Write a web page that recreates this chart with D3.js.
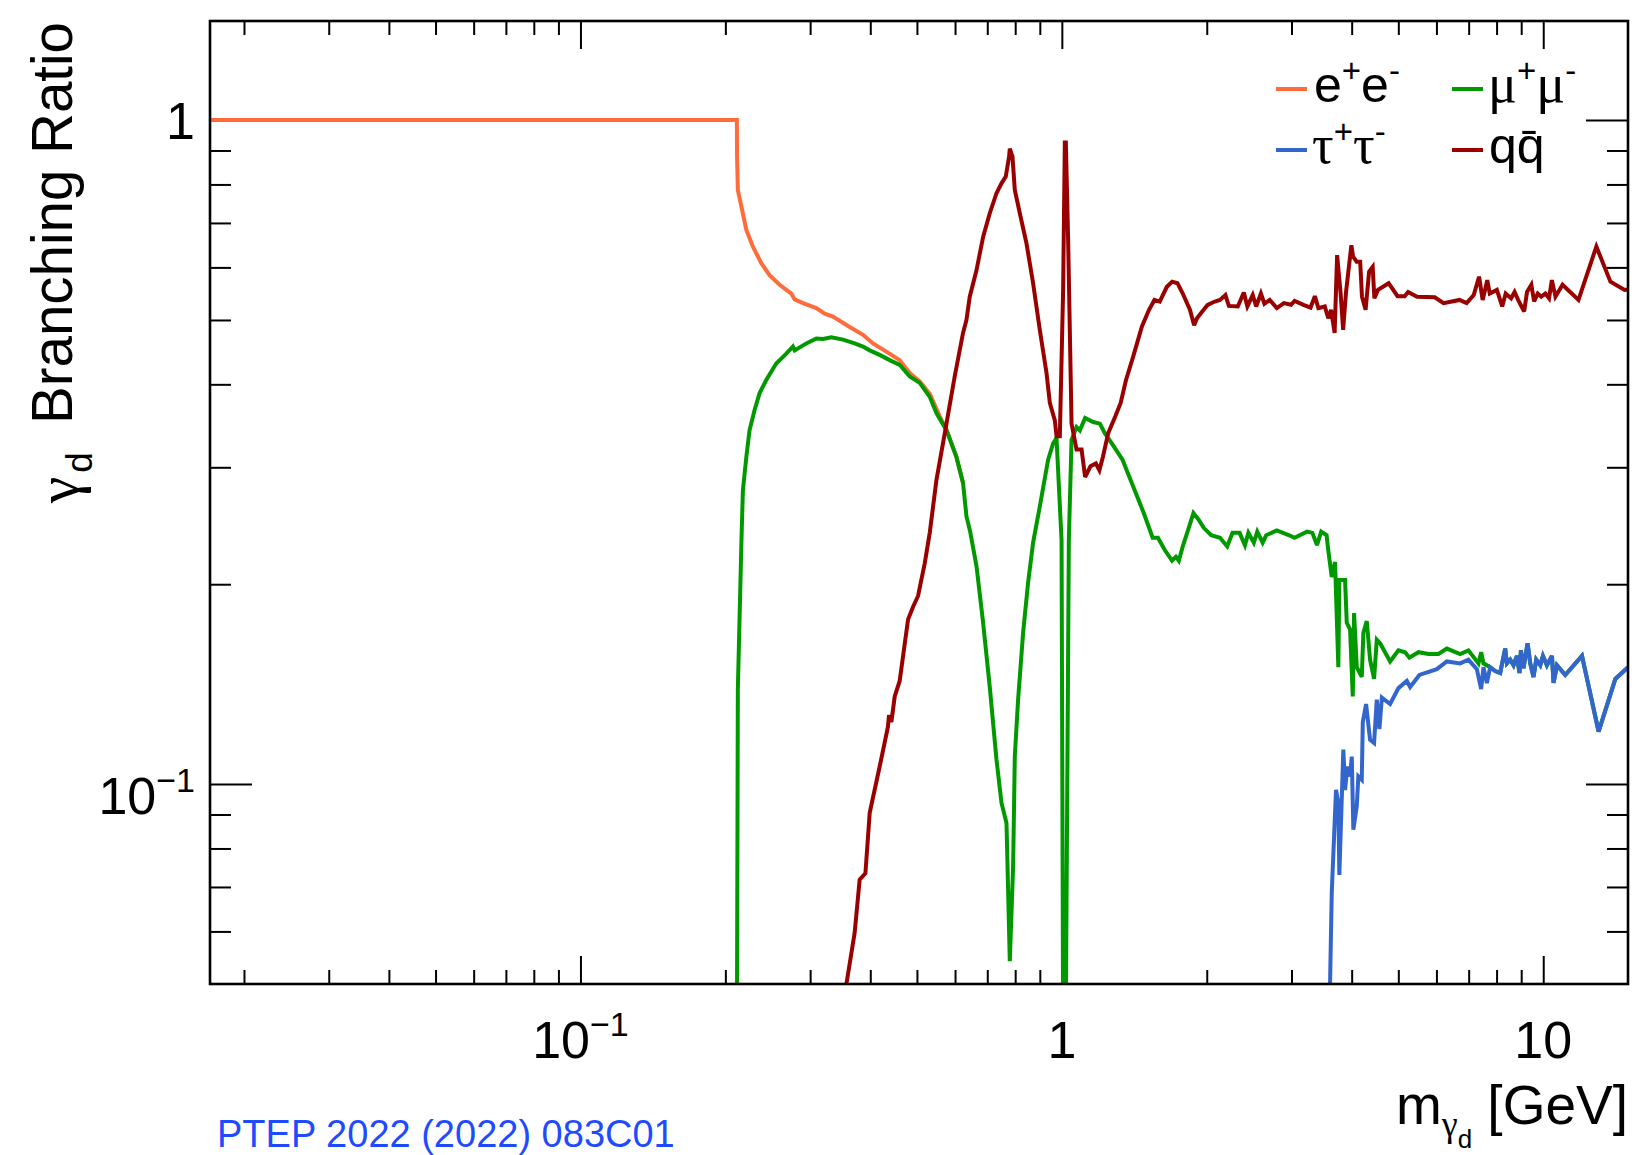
<!DOCTYPE html>
<html><head><meta charset="utf-8">
<script src="https://cdn.jsdelivr.net/npm/d3@7"></script>
<style>
body{margin:0;background:#fff;}
svg{display:block;}
text{font-family:"Liberation Sans",Arial,Helvetica,sans-serif;fill:#000;}
.greek{font-family:"Liberation Serif","DejaVu Serif",serif;}
</style>
</head><body>
<svg id="c" width="1639" height="1155"></svg>
<script>
// ---------------- data (mass in GeV, branching ratio) ----------------
const eeData = [[0.017,1.0],[0.2113,1.0],[0.2115,0.88],[0.2123,0.785],[0.216,0.74],[0.2211,0.683],[0.2281,0.645],[0.2375,0.609],[0.2471,0.584],[0.2593,0.565],[0.2742,0.548],[0.2786,0.537],[0.2899,0.53],[0.309,0.521],[0.3216,0.511],[0.3345,0.506],[0.3625,0.488],[0.3863,0.475],[0.4053,0.461],[0.4319,0.448],[0.4604,0.435],[0.4831,0.416],[0.5068,0.404],[0.5316,0.387],[0.5577,0.358],[0.5759,0.342],[0.6039,0.311],[0.6234,0.284]];

const mumuData = [[0.2114,0.045],[0.2123,0.139],[0.216,0.233],[0.2175,0.277],[0.2211,0.311],[0.2245,0.341],[0.23,0.366],[0.2356,0.388],[0.2432,0.406],[0.2551,0.43],[0.2677,0.445],[0.2763,0.456],[0.2786,0.45],[0.2946,0.461],[0.309,0.469],[0.319,0.468],[0.332,0.471],[0.351,0.467],[0.3712,0.461],[0.3863,0.456],[0.3989,0.45],[0.4184,0.443],[0.4389,0.435],[0.4604,0.428],[0.4831,0.411],[0.5068,0.402],[0.5316,0.383],[0.5489,0.362],[0.5759,0.341],[0.6039,0.311],[0.6234,0.284],[0.6337,0.253],[0.645,0.24],[0.6648,0.213],[0.6862,0.175],[0.7084,0.14],[0.7316,0.1088],[0.7493,0.0937],[0.7674,0.0874],[0.7796,0.0541],[0.7921,0.0752],[0.7985,0.11],[0.8112,0.134],[0.8309,0.169],[0.8509,0.201],[0.8716,0.231],[0.9,0.262],[0.9365,0.308],[0.9592,0.326],[0.9749,0.332],[0.9986,0.233],[1.006,0.045],[1.0193,0.045],[1.034,0.233],[1.0475,0.33],[1.0729,0.345],[1.09,0.341],[1.1178,0.356],[1.1617,0.351],[1.1995,0.349],[1.2274,0.338],[1.2697,0.326],[1.3366,0.308],[1.4061,0.281],[1.4796,0.256],[1.5439,0.235],[1.5836,0.235],[1.6374,0.225],[1.694,0.217],[1.726,0.22],[1.75,0.217],[1.7831,0.228],[1.8281,0.241],[1.8767,0.256],[1.9249,0.25],[1.9734,0.243],[2.0428,0.237],[2.1308,0.235],[2.2057,0.228],[2.2622,0.239],[2.3401,0.239],[2.4005,0.229],[2.4407,0.239],[2.5049,0.231],[2.5468,0.24],[2.6128,0.231],[2.6578,0.237],[2.7965,0.241],[2.9677,0.237],[3.044,0.235],[3.2318,0.24],[3.3146,0.239],[3.3884,0.229],[3.4572,0.24],[3.5477,0.237],[3.5765,0.225],[3.6365,0.205],[3.6943,0.216],[3.7528,0.15],[3.7709,0.203],[3.8757,0.203],[3.9071,0.175],[3.9696,0.171],[4.0212,0.1355],[4.0463,0.181],[4.0988,0.15],[4.1982,0.145],[4.2303,0.169],[4.2999,0.176],[4.368,0.154],[4.4524,0.144],[4.5107,0.165],[4.5827,0.163],[4.8078,0.153],[5.0029,0.159],[5.1655,0.158],[5.2725,0.155],[5.5051,0.158],[5.7749,0.157],[6.0577,0.157],[6.307,0.16],[6.72,0.157],[6.9926,0.159],[7.3361,0.152],[7.431,0.158],[7.5137,0.152],[7.7585,0.15],[7.9462,0.148],[8.1389,0.147],[8.3366,0.16],[8.404,0.152],[8.5387,0.154],[8.6754,0.151],[8.8165,0.156],[8.927,0.147],[8.9869,0.159],[9.1,0.1495],[9.2782,0.163],[9.3972,0.152],[9.5455,0.145],[9.6697,0.154],[9.8583,0.151],[9.9862,0.156],[10.178,0.151],[10.426,0.156],[10.506,0.142],[10.679,0.151],[11.11,0.146],[12.036,0.156],[13.032,0.12],[14.119,0.144],[15.0,0.15]];

const tautauData = [[3.56,0.03],[3.6365,0.0686],[3.7115,0.098],[3.7528,0.0937],[3.7709,0.073],[3.8437,0.1127],[3.8757,0.098],[3.9179,0.1063],[3.9696,0.1027],[4.0018,0.11],[4.0323,0.0854],[4.0988,0.0926],[4.1301,0.1027],[4.1982,0.1015],[4.2186,0.124],[4.2853,0.132],[4.368,0.1166],[4.4524,0.1153],[4.5107,0.134],[4.5679,0.121],[4.6209,0.135],[4.8078,0.132],[5.0029,0.1395],[5.2073,0.143],[5.2907,0.14],[5.5318,0.146],[6.0117,0.149],[6.307,0.153],[6.72,0.152],[6.9926,0.154],[7.279,0.149],[7.431,0.139],[7.5137,0.15],[7.6362,0.142],[7.7585,0.15],[7.9462,0.148],[8.1389,0.147],[8.3366,0.16],[8.404,0.152],[8.5387,0.154],[8.6754,0.151],[8.8165,0.156],[8.927,0.147],[8.9869,0.159],[9.1,0.1495],[9.2782,0.163],[9.3972,0.152],[9.5455,0.145],[9.6697,0.154],[9.8583,0.151],[9.9862,0.156],[10.178,0.151],[10.426,0.156],[10.506,0.142],[10.679,0.151],[11.11,0.146],[12.036,0.156],[13.032,0.12],[14.119,0.144],[15.0,0.15]];

const qqData = [[0.352,0.047],[0.3712,0.0597],[0.3802,0.0718],[0.3908,0.0734],[0.3989,0.0905],[0.4184,0.1063],[0.4353,0.122],[0.4375,0.127],[0.4425,0.124],[0.4496,0.1355],[0.4604,0.143],[0.4792,0.177],[0.4909,0.185],[0.5027,0.192],[0.519,0.215],[0.5316,0.239],[0.5489,0.287],[0.5759,0.349],[0.599,0.411],[0.6234,0.478],[0.6337,0.5],[0.6437,0.542],[0.6648,0.594],[0.6862,0.667],[0.7084,0.724],[0.7316,0.776],[0.7493,0.803],[0.7648,0.822],[0.777,0.881],[0.7796,0.906],[0.7897,0.881],[0.7985,0.785],[0.8179,0.724],[0.8444,0.652],[0.8716,0.568],[0.9,0.483],[0.9293,0.416],[0.9442,0.375],[0.967,0.353],[0.9749,0.334],[0.9904,0.334],[1.0062,0.555],[1.0144,0.925],[1.0193,0.925],[1.0306,0.66],[1.0475,0.349],[1.0729,0.319],[1.099,0.319],[1.1178,0.29],[1.1468,0.301],[1.1768,0.304],[1.1967,0.297],[1.2168,0.311],[1.2488,0.338],[1.2917,0.358],[1.3249,0.375],[1.3592,0.406],[1.4061,0.44],[1.4667,0.489],[1.5176,0.518],[1.5572,0.536],[1.5972,0.533],[1.6525,0.561],[1.6949,0.571],[1.7385,0.568],[1.7831,0.548],[1.8454,0.518],[1.8828,0.491],[1.9085,0.503],[1.9575,0.515],[2.0088,0.527],[2.0784,0.533],[2.1308,0.536],[2.1865,0.545],[2.2233,0.525],[2.3202,0.524],[2.3878,0.55],[2.4289,0.524],[2.4917,0.545],[2.5334,0.524],[2.5912,0.548],[2.6352,0.529],[2.7028,0.536],[2.7965,0.521],[2.8929,0.53],[2.9932,0.527],[3.044,0.534],[3.1764,0.527],[3.286,0.522],[3.3545,0.543],[3.4112,0.521],[3.5175,0.524],[3.5765,0.503],[3.6245,0.518],[3.687,0.478],[3.7312,0.626],[3.7945,0.548],[3.8402,0.483],[3.8937,0.551],[3.9944,0.648],[4.0268,0.623],[4.0969,0.612],[4.1664,0.612],[4.2021,0.542],[4.2754,0.518],[4.3477,0.591],[4.4228,0.601],[4.4596,0.539],[4.5367,0.555],[4.7735,0.568],[4.9811,0.543],[5.1536,0.543],[5.2398,0.551],[5.4684,0.542],[5.9521,0.541],[6.2075,0.53],[6.7014,0.536],[6.9318,0.53],[7.1721,0.545],[7.3564,0.581],[7.4843,0.536],[7.652,0.574],[7.7424,0.548],[8.0107,0.555],[8.2181,0.524],[8.3558,0.548],[8.5761,0.539],[8.7195,0.551],[8.8675,0.536],[9.1272,0.515],[9.2547,0.551],[9.4471,0.565],[9.5741,0.533],[9.7412,0.548],[9.904,0.542],[10.106,0.548],[10.282,0.539],[10.421,0.574],[10.602,0.542],[10.967,0.565],[11.836,0.536],[12.893,0.645],[13.791,0.571],[14.757,0.555],[15.0,0.556]];

const seriesNames  = ["e+e-", "mu+mu-", "tau+tau-", "qqbar"];
const seriesColors = ["#ff6b3a", "#009900", "#3366cc", "#990000"];
const xDomain = [0.017, 15];
const yDomain = [0.05, 1.41];
const xMajorTicks = [0.1, 1, 10];
const yMajorTicks = [0.1, 1];
// tick label parts: [base, exponent]
const xTickLabels = [["10","\u22121"], ["1",""], ["10",""]];
const yTickLabels = [["10","\u22121"], ["1",""]];

// ---------------- drawing ----------------
const W = 1639, H = 1155;
const F = {l:210, r:1628, t:21, b:984};
const svg = d3.select("#c");
svg.append("rect").attr("width", W).attr("height", H).attr("fill", "#fff");

const x = d3.scaleLog().domain(xDomain).range([F.l, F.r]);
const y = d3.scaleLog().domain(yDomain).range([F.b, F.t]);

svg.append("defs").append("clipPath").attr("id", "clip")
  .append("rect").attr("x", F.l).attr("y", F.t).attr("width", F.r - F.l).attr("height", F.b - F.t);

const isMajor = v => Math.abs(Math.log10(v) - Math.round(Math.log10(v))) < 1e-9;
const xMinor = x.ticks().filter(v => !isMajor(v));
const yMinor = y.ticks().filter(v => !isMajor(v) && v > yDomain[0] * 1.001);

function styleAxis(g) {
  g.select(".domain").remove();
  g.selectAll("line").attr("stroke", "#000").attr("stroke-width", 2);
  g.selectAll("text").remove();
}
// bottom & top
svg.append("g").attr("transform", `translate(0,${F.b})`)
  .call(d3.axisBottom(x).tickValues(xMinor).tickSize(-14).tickSizeOuter(0)).call(styleAxis);
svg.append("g").attr("transform", `translate(0,${F.b})`)
  .call(d3.axisBottom(x).tickValues(xMajorTicks).tickSize(-28).tickSizeOuter(0)).call(styleAxis);
svg.append("g").attr("transform", `translate(0,${F.t})`)
  .call(d3.axisTop(x).tickValues(xMinor).tickSize(-14).tickSizeOuter(0)).call(styleAxis);
svg.append("g").attr("transform", `translate(0,${F.t})`)
  .call(d3.axisTop(x).tickValues(xMajorTicks).tickSize(-28).tickSizeOuter(0)).call(styleAxis);
// left & right
svg.append("g").attr("transform", `translate(${F.l},0)`)
  .call(d3.axisLeft(y).tickValues(yMinor).tickSize(-21).tickSizeOuter(0)).call(styleAxis);
svg.append("g").attr("transform", `translate(${F.l},0)`)
  .call(d3.axisLeft(y).tickValues(yMajorTicks).tickSize(-42).tickSizeOuter(0)).call(styleAxis);
svg.append("g").attr("transform", `translate(${F.r},0)`)
  .call(d3.axisRight(y).tickValues(yMinor).tickSize(-21).tickSizeOuter(0)).call(styleAxis);
svg.append("g").attr("transform", `translate(${F.r},0)`)
  .call(d3.axisRight(y).tickValues(yMajorTicks).tickSize(-42).tickSizeOuter(0)).call(styleAxis);

// curves
const line = d3.line().x(d => x(d[0])).y(d => y(d[1]));
const curves = svg.append("g").attr("clip-path", "url(#clip)");
[eeData, mumuData, tautauData, qqData].forEach((data, i) => {
  curves.append("path").datum(data).attr("d", line)
    .attr("fill", "none").attr("stroke", seriesColors[i]).attr("stroke-width", 4)
    .attr("stroke-linejoin", "miter").attr("stroke-miterlimit", 3);
});

// frame
svg.append("rect").attr("x", F.l).attr("y", F.t).attr("width", F.r - F.l).attr("height", F.b - F.t)
  .attr("fill", "none").attr("stroke", "#000").attr("stroke-width", 2.6);

// tick labels
const LBL = 52, SUP = 34;
function richLabel(sel, base, exp) {
  sel.append("tspan").text(base);
  if (exp) sel.append("tspan").attr("font-size", SUP).attr("dy", -22).text(exp);
}
xMajorTicks.forEach((v, i) => {
  const t = svg.append("text").attr("x", x(v)).attr("y", 1058)
    .attr("text-anchor", "middle").attr("font-size", LBL);
  richLabel(t, xTickLabels[i][0], xTickLabels[i][1]);
});
yMajorTicks.forEach((v, i) => {
  const hasExp = !!yTickLabels[i][1];
  const t = svg.append("text").attr("x", F.l - 15).attr("y", y(v) + (hasExp ? 30 : 19))
    .attr("text-anchor", "end").attr("font-size", LBL);
  richLabel(t, yTickLabels[i][0], yTickLabels[i][1]);
});

// axis titles
const TT = 55;
const xt = svg.append("text").attr("x", F.r).attr("y", 1124).attr("text-anchor", "end").attr("font-size", TT);
xt.append("tspan").text("m");
xt.append("tspan").attr("class", "greek").attr("font-size", 36).attr("dy", 12).text("\u03b3");
xt.append("tspan").attr("font-size", 26).attr("dy", 12).text("d");
xt.append("tspan").attr("font-size", TT).attr("dy", -24).text(" [GeV]");

const YT = 56.5;
const yt = svg.append("text").attr("transform", `translate(72,22) rotate(-90)`)
  .attr("text-anchor", "end").attr("font-size", YT);
yt.append("tspan").attr("class", "greek").attr("font-size", 60).attr("dy", 6).text("\u03b3");
yt.append("tspan").attr("font-size", 37).attr("dy", 14).attr("dx", 4).text("d");
yt.append("tspan").attr("font-size", YT).attr("dy", -20).text("\u2002Branching Ratio");

// legend
const LG = 50, LS = 33;
const legendItems = [
  {c: 0, x0: 1276, ly: 89,  tx: 1314, parts: [["e",0,0],["+",1,0],["e",0,0],["-",1,0]]},
  {c: 1, x0: 1452, ly: 89,  tx: 1488, parts: [["\u03bc",0,1],["+",1,0],["\u03bc",0,1],["-",1,0]]},
  {c: 2, x0: 1276, ly: 150, tx: 1312, parts: [["\u03c4",0,1],["+",1,0],["\u03c4",0,1],["-",1,0]]},
  {c: 3, x0: 1452, ly: 150, tx: 1489, parts: [["q",0,0],["q\u0304",0,0]]}
];
legendItems.forEach(it => {
  svg.append("line").attr("x1", it.x0).attr("x2", it.x0 + 31).attr("y1", it.ly).attr("y2", it.ly)
    .attr("stroke", seriesColors[it.c]).attr("stroke-width", 4);
  const t = svg.append("text").attr("x", it.tx).attr("y", it.ly + 13).attr("font-size", LG);
  let up = false;
  it.parts.forEach(([s, sup, greek]) => {
    const ts = t.append("tspan").text(s);
    if (greek) ts.attr("class", "greek").attr("font-size", 54);
    if (sup && !up) { ts.attr("font-size", LS).attr("dy", -20); up = true; }
    else if (!sup && up) { ts.attr("dy", 20); if (!greek) ts.attr("font-size", LG); up = false; }
  });
});

// source note
svg.append("text").attr("x", 217).attr("y", 1147).attr("font-size", 38)
  .style("fill", "#1f4bff").text("PTEP 2022 (2022) 083C01");
</script>
</body></html>
